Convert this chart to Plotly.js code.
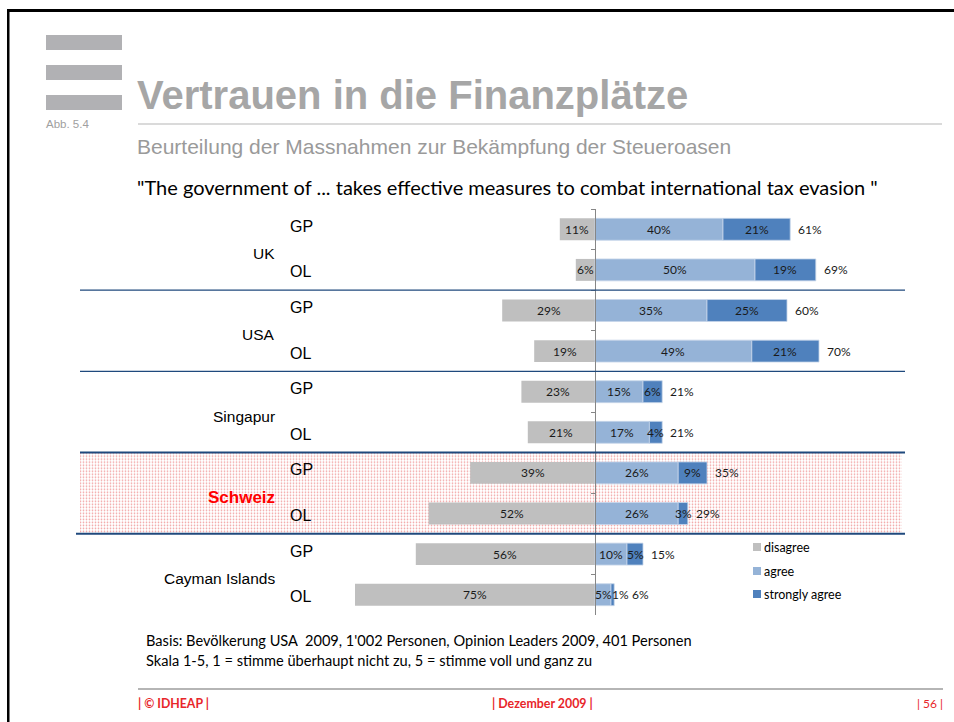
<!DOCTYPE html>
<html>
<head>
<meta charset="utf-8">
<script src="https://cdn.plot.ly/plotly-3.0.1.min.js"></script>
<style>html,body{margin:0;padding:0;background:#fff;}#chart{width:954px;height:722px;}</style>
</head>
<body>
<div id="chart"></div>
<script>
// ---- data ----
var countries = ["UK", "USA", "Singapur", "Schweiz", "Cayman Islands"];
var groups = ["GP", "OL"];
var rowIds = ["UK GP", "UK OL", "USA GP", "USA OL", "Singapur GP", "Singapur OL", "Schweiz GP", "Schweiz OL", "Cayman GP", "Cayman OL"];
var disagree = [11, 6, 29, 19, 23, 21, 39, 52, 56, 75];
var agree = [40, 50, 35, 49, 15, 17, 26, 26, 10, 5];
var stronglyAgree = [21, 19, 25, 21, 6, 4, 9, 3, 5, 1];
var totalAgree = [61, 69, 60, 70, 21, 21, 35, 29, 15, 6];
var seriesNames = ["disagree", "agree", "strongly agree"];
var seriesColors = ["#bfbfbf", "#95b3d7", "#4f81bd"];

// ---- geometry helpers (pixel -> paper) ----
var W = 954, H = 722;
var M = {l: 80, r: 49, t: 209, b: 107};
var PW = W - M.l - M.r, PH = H - M.t - M.b;
function px(x) { return (x - M.l) / PW; }
function py(y) { return 1 - (y - M.t) / PH; }
var zeroPx = 595, pxPerPct = 3.2;
var xr = [(M.l - zeroPx) / pxPerPct, (W - M.r - zeroPx) / pxPerPct];

var ARIAL = "Liberation Sans, Arial, sans-serif";
var CAL = "Lato, Open Sans, sans-serif";

// dotted pink pattern for the highlighted block
function dotPattern(w, h) {
  var cv = document.createElement("canvas");
  cv.width = w; cv.height = h;
  var g = cv.getContext("2d");
  g.fillStyle = "#ffffff"; g.fillRect(0, 0, w, h);
  for (var yy = 0; yy < h; yy++) {
    for (var xx = 0; xx < w; xx++) {
      if (xx % 3 === 0 && yy % 3 === 0) { g.fillStyle = "#f2a0a0"; g.fillRect(xx, yy, 1, 1); }
      else if ((xx % 3 === 0) !== (yy % 3 === 0)) { g.fillStyle = "#fbe6e6"; g.fillRect(xx, yy, 1, 1); }
    }
  }
  return cv.toDataURL("image/png");
}

var traces = [
  {type: "bar", orientation: "h", name: seriesNames[0], y: rowIds, x: disagree.map(function (v) { return -v; }),
   marker: {color: seriesColors[0]}, hoverinfo: "none"},
  {type: "bar", orientation: "h", name: seriesNames[1], y: rowIds, x: agree,
   marker: {color: seriesColors[1], line: {color: "#c6d6ea", width: 0.8}}, hoverinfo: "none"},
  {type: "bar", orientation: "h", name: seriesNames[2], y: rowIds, x: stronglyAgree,
   marker: {color: seriesColors[2], line: {color: "#c6d6ea", width: 0.8}}, hoverinfo: "none"}
];

var ann = [];
var labFont = {family: CAL, size: 12, color: "#1a1a1a"};
for (var i = 0; i < rowIds.length; i++) {
  var tiny = stronglyAgree[i] < 2;
  ann.push({x: -disagree[i] / 2, y: rowIds[i], xref: "x", yref: "y", text: disagree[i] + "%", showarrow: false, font: labFont});
  ann.push({x: agree[i] / 2, y: rowIds[i], xref: "x", yref: "y", text: agree[i] + "%", showarrow: false, font: labFont});
  ann.push({x: agree[i] + stronglyAgree[i] / 2, y: rowIds[i], xref: "x", yref: "y", text: stronglyAgree[i] + "%", showarrow: false, font: labFont, xshift: tiny ? 8 : 0});
  ann.push({x: agree[i] + stronglyAgree[i], y: rowIds[i], xref: "x", yref: "y", text: totalAgree[i] + "%", showarrow: false, font: labFont, xanchor: "left", xshift: tiny ? 16 : 6});
  // GP / OL labels
  ann.push({x: px(288), xref: "paper", y: rowIds[i], yref: "y", text: groups[i % 2], showarrow: false, xanchor: "left",
    yshift: (i % 2 === 0) ? 3 : -2, font: {family: ARIAL, size: 16, color: "#000"}});
}
for (var c = 0; c < countries.length; c++) {
  var isCH = countries[c] === "Schweiz";
  ann.push({x: px(277), xref: "paper", y: 2 * c + 0.5, yref: "y", text: isCH ? "<b>" + countries[c] + "</b>" : countries[c],
    showarrow: false, xanchor: "right", yshift: -4,
    font: {family: ARIAL, size: isCH ? 17 : 15.5, color: isCH ? "#ff0000" : "#000"}});
}

function pAnn(x, y, text, font, xanchor) {
  ann.push({x: px(x), y: py(y), xref: "paper", yref: "paper", text: text, showarrow: false,
    xanchor: xanchor || "left", yanchor: "middle", font: font});
}
pAnn(135, 95, "<b>Vertrauen in die Finanzplätze</b>", {family: ARIAL, size: 40, color: "#a6a6a6"});
pAnn(44, 124, "Abb. 5.4", {family: ARIAL, size: 11.5, color: "#a0a0a0"});
pAnn(135, 146, "Beurteilung der Massnahmen zur Bekämpfung der Steueroasen", {family: ARIAL, size: 21, color: "#9a9a9a"});
pAnn(135, 187, "\"The government of ... takes effective measures to combat international tax evasion \"", {family: CAL, size: 20, color: "#000"});
pAnn(144, 640, "Basis: Bevölkerung USA  2009, 1'002 Personen, Opinion Leaders 2009, 401 Personen", {family: CAL, size: 14.6, color: "#000"});
pAnn(144, 660, "Skala 1-5, 1 = stimme überhaupt nicht zu, 5 = stimme voll und ganz zu", {family: CAL, size: 14.6, color: "#000"});
pAnn(136, 703, "<b>| © IDHEAP |</b>", {family: CAL, size: 12.3, color: "#e8262a"});
pAnn(542, 703, "<b>| Dezember 2009 |</b>", {family: CAL, size: 12.4, color: "#e8262a"}, "center");
pAnn(945, 703, "| 56 |", {family: CAL, size: 12, color: "#e8262a"}, "right");

// legend (manual)
var legY = [547, 571, 594];
var shapes = [];
for (var k = 0; k < 3; k++) {
  shapes.push({type: "rect", xref: "paper", yref: "paper", x0: px(753), x1: px(761), y0: py(legY[k] - 4), y1: py(legY[k] + 4),
    fillcolor: seriesColors[k], line: {width: 0}});
  pAnn(762, legY[k], seriesNames[k], {family: CAL, size: 12.5, color: "#000"});
}

// slide decoration
shapes.push({type: "rect", xref: "paper", yref: "paper", x0: px(7), x1: px(954), y0: py(9), y1: py(12), fillcolor: "#000", line: {width: 0}});
shapes.push({type: "rect", xref: "paper", yref: "paper", x0: px(7), x1: px(9.5), y0: py(9), y1: py(722), fillcolor: "#000", line: {width: 0}});
[[35, 50], [65, 80], [95, 110]].forEach(function (b) {
  shapes.push({type: "rect", xref: "paper", yref: "paper", x0: px(46), x1: px(122), y0: py(b[0]), y1: py(b[1]), fillcolor: "#b1b1b4", line: {width: 0}});
});
shapes.push({type: "line", xref: "paper", yref: "paper", x0: px(138), x1: px(942), y0: py(124), y1: py(124), line: {color: "#b5b5b5", width: 1}});
shapes.push({type: "line", xref: "paper", yref: "paper", x0: px(138), x1: px(943), y0: py(689), y1: py(689), line: {color: "#b5b5b5", width: 2}});

// separators
[[1.5, 1.3, 80], [3.5, 1.3, 80], [5.5, 2, 80], [7.5, 2, 76]].forEach(function (s) {
  shapes.push({type: "line", xref: "paper", yref: "y", x0: px(s[2]), x1: px(905), y0: s[0], y1: s[0], line: {color: "#1f497d", width: s[1]}});
});

// Schweiz highlight as a patterned image behind the plot (rows 5.5 .. 7.5)
var hlTop = M.t + 6 * PH / 10, hlBot = M.t + 8 * PH / 10;
var images = [{source: dotPattern(822, Math.round(hlBot - hlTop)), xref: "paper", yref: "paper",
  x: 0, y: py(hlTop), sizex: px(902), sizey: (hlBot - hlTop) / PH, sizing: "stretch",
  xanchor: "left", yanchor: "top", layer: "below"}];

var layout = {
  width: W, height: H, margin: M, paper_bgcolor: "#fff", plot_bgcolor: "rgba(0,0,0,0)",
  barmode: "relative", bargap: 0.46, showlegend: false,
  xaxis: {range: xr, visible: false, fixedrange: true},
  yaxis: {type: "category", categoryorder: "array", categoryarray: rowIds, autorange: "reversed",
    showticklabels: false, showgrid: false, zeroline: false, showline: true, linecolor: "#868686", linewidth: 1,
    ticks: "outside", tickson: "boundaries", ticklen: 4, tickcolor: "#868686",
    anchor: "free", position: px(zeroPx), fixedrange: true},
  annotations: ann, shapes: shapes, images: images
};
Plotly.newPlot("chart", traces, layout, {staticPlot: true, displayModeBar: false});
</script>
</body>
</html>
